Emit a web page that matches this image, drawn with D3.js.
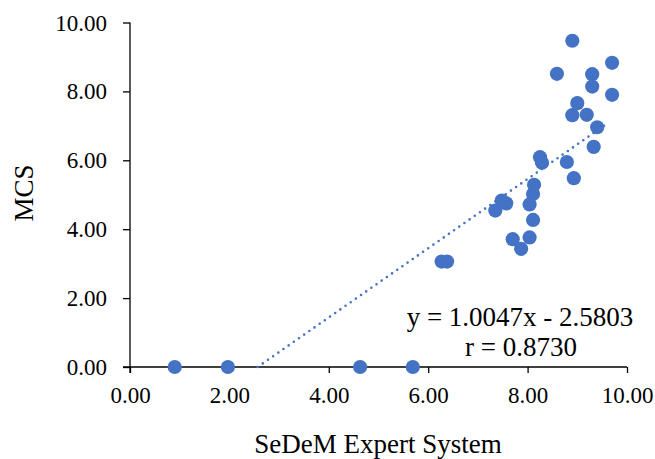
<!DOCTYPE html>
<html><head><meta charset="utf-8">
<script src="https://cdn.jsdelivr.net/npm/d3@7"></script>
<style>body{margin:0;background:#fff}svg{display:block}text{font-family:"Liberation Serif",serif;fill:#000}</style>
</head><body>
<svg id="c" width="655" height="459"></svg>
<script>
const xValues = [0.90, 1.97, 4.63, 5.69, 8.90, 9.70, 8.59, 9.30, 9.30, 9.70, 9.00, 8.90, 9.19, 9.40, 9.33, 8.25, 8.29, 8.79, 8.93, 8.13, 8.11, 7.48, 7.57, 7.35, 8.04, 8.11, 7.70, 8.04, 7.87, 6.27, 6.38];
const yValues = [0, 0, 0, 0, 9.47, 8.83, 8.51, 8.50, 8.14, 7.90, 7.66, 7.31, 7.32, 6.96, 6.39, 6.09, 5.93, 5.95, 5.48, 5.29, 5.02, 4.83, 4.75, 4.54, 4.72, 4.27, 3.71, 3.76, 3.43, 3.06, 3.06];
const xTicks = [0, 2, 4, 6, 8, 10];
const yTicks = [0, 2, 4, 6, 8, 10];
const slope = 1.0047, intercept = -2.5803, rValue = 0.8730;
const trendRange = [2.568, 9.62];

const svg = d3.select("#c");
const x = d3.scaleLinear().domain([0, 10]).range([130, 627]);
const y = d3.scaleLinear().domain([0, 10]).range([367, 22.5]);

const xAxis = d3.axisBottom(x).tickValues(xTicks).tickFormat(d3.format(".2f")).tickSize(6).tickPadding(4);
const yAxis = d3.axisLeft(y).tickValues(yTicks).tickFormat(d3.format(".2f")).tickSize(7).tickPadding(16);

const gx = svg.append("g").attr("transform", `translate(0,${y(0)})`).call(xAxis);
const gy = svg.append("g").attr("transform", `translate(${x(0)},0)`).call(yAxis);
[gx, gy].forEach(g => {
  g.select(".domain").remove();
  g.selectAll(".tick line").attr("stroke", "#000").attr("stroke-width", 1.3);
  g.selectAll(".tick text").attr("font-family", "Liberation Serif").attr("font-size", 23).attr("fill", "#000");
});
gx.selectAll(".tick text").attr("y", 36).attr("dy", 0);
gy.selectAll(".tick text").attr("dy", "0.33em");

svg.append("line").attr("x1", x(0) - 7).attr("x2", x(10)).attr("y1", y(0)).attr("y2", y(0)).attr("stroke", "#000").attr("stroke-width", 1.3);
svg.append("line").attr("x1", x(0)).attr("x2", x(0)).attr("y1", y(10)).attr("y2", y(0) + 6).attr("stroke", "#000").attr("stroke-width", 1.3);

const pts = xValues.map((v, i) => [v, yValues[i]]);
svg.append("g").selectAll("circle").data(pts).join("circle")
  .attr("cx", d => x(d[0])).attr("cy", d => y(d[1])).attr("r", 7.1).attr("fill", "#4472C4");

svg.append("line")
  .attr("x1", x(trendRange[0])).attr("y1", y(slope * trendRange[0] + intercept))
  .attr("x2", x(trendRange[1])).attr("y2", y(slope * trendRange[1] + intercept))
  .attr("stroke", "#4472C4").attr("stroke-width", 2.6).attr("stroke-linecap", "round").attr("stroke-dasharray", "0 6.3");

svg.append("text").attr("x", 520).attr("y", 326).attr("text-anchor", "middle").attr("font-size", 27)
  .text(`y = ${slope.toFixed(4)}x - ${Math.abs(intercept).toFixed(4)}`);
svg.append("text").attr("x", 521).attr("y", 356).attr("text-anchor", "middle").attr("font-size", 27)
  .text(`r = ${rValue.toFixed(4)}`);

svg.append("text").attr("x", 378).attr("y", 453).attr("text-anchor", "middle").attr("font-size", 27).text("SeDeM Expert System");
svg.append("text").attr("transform", "translate(33,193) rotate(-90)").attr("text-anchor", "middle").attr("font-size", 27).text("MCS");
</script>
</body></html>
